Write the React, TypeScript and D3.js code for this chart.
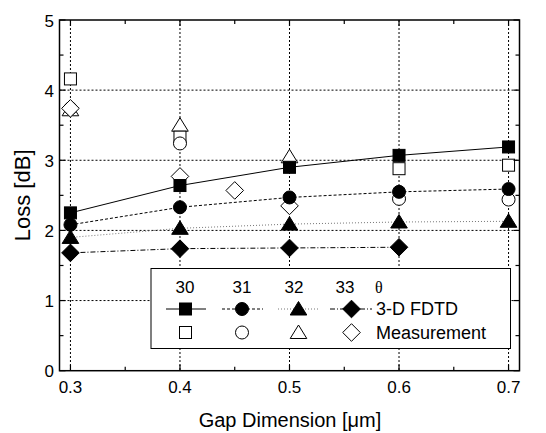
import React from "react";
import * as d3 from "d3";

const gaps = [0.3, 0.4, 0.5, 0.6, 0.7];
const fdtd30 = [2.25, 2.64, 2.9, 3.07, 3.19];
const fdtd31 = [2.08, 2.33, 2.47, 2.55, 2.59];
const fdtd32 = [1.9, 2.03, 2.09, 2.12, 2.13];
const fdtd33 = [1.68, 1.74, 1.75, 1.76];
const meas30x = [0.3, 0.4, 0.6, 0.7];
const meas30 = [4.16, 3.33, 2.88, 2.93];
const meas31x = [0.3, 0.4, 0.6, 0.7];
const meas31 = [3.74, 3.24, 2.45, 2.44];
const meas32x = [0.3, 0.4, 0.5];
const meas32 = [3.72, 3.5, 3.05];
const meas33x = [0.3, 0.4, 0.45, 0.5];
const meas33 = [3.74, 2.77, 2.57, 2.35];
const xTicks = [0.3, 0.4, 0.5, 0.6, 0.7];
const yTicks = [0, 1, 2, 3, 4, 5];
const legendAngles = ["30", "31", "32", "33"];

const W = 546, H = 433;
const L = 59.5, R = 519.5, T = 20, B = 370.7;
const x = d3.scaleLinear().domain([0.29, 0.71]).range([L, R]);
const y = d3.scaleLinear().domain([0, 5]).range([B, T]);
const font = "Liberation Sans, Arial, sans-serif";

type Shape = "square" | "circle" | "triangle" | "diamond";
function Marker({ shape, cx, cy, filled }: { shape: Shape; cx: number; cy: number; filled: boolean }) {
  const fill = filled ? "#000" : "#fff";
  const st = { fill, stroke: "#000", strokeWidth: 1 };
  if (shape === "square") return <rect x={cx - 6} y={cy - 6} width={12} height={12} {...st} />;
  if (shape === "circle") return <circle cx={cx} cy={cy} r={6.5} {...st} />;
  if (shape === "triangle") {
    return <path d={`M${cx},${cy - 7.5}L${cx + 8.3},${cy + 6}L${cx - 8.3},${cy + 6}Z`} {...st} />;
  }
  const s = 8.8;
  return <path d={`M${cx},${cy - s}L${cx + s},${cy}L${cx},${cy + s}L${cx - s},${cy}Z`} {...st} />;
}

const shapes: Shape[] = ["square", "circle", "triangle", "diamond"];
const dashes = ["", "3,2", "1,2", "5,2,1,2"];
const lineColors = ["#000", "#000", "#777", "#000"];

export default function App() {
  const fdtd = [fdtd30, fdtd31, fdtd32, fdtd33];
  const measX = [meas30x, meas31x, meas32x, meas33x];
  const meas = [meas30, meas31, meas32, meas33];
  const line = d3.line<[number, number]>().x(d => x(d[0])).y(d => y(d[1]));
  const minorX = d3.range(0.3, 0.71, 0.05);
  const minorY = d3.range(0, 5.01, 0.5);
  const legX = [185.5, 242, 298.5, 351.5];
  const legLine = [[166, 206], [222, 263], [278, 318], [330, 372]];
  return (
    <svg width={W} height={H} style={{ position: "absolute", left: 0, top: 0, background: "#fff" }}>
      <rect x={0} y={0} width={W} height={H} fill="#fff" />
      {xTicks.map(t => (
        <line key={"gx" + t} x1={x(t)} x2={x(t)} y1={T} y2={B} stroke="#000" strokeWidth={1} strokeDasharray="2,2" />
      ))}
      {yTicks.filter(t => t > 0 && t < 5).map(t => (
        <line key={"gy" + t} x1={L} x2={R} y1={y(t)} y2={y(t)} stroke="#000" strokeWidth={1} strokeDasharray="2,2" />
      ))}
      {fdtd.map((vals, i) => (
        <path key={"l" + i} d={line(vals.map((v, j) => [gaps[j], v]) as [number, number][]) || ""}
          fill="none" stroke={lineColors[i]} strokeWidth={1} strokeDasharray={dashes[i]} />
      ))}
      {[2, 0, 1, 3].map(i => measX[i].map((gx, j) => (
        <Marker key={"m" + i + "-" + j} shape={shapes[i]} cx={x(gx)} cy={y(meas[i][j])} filled={false} />
      )))}
      {fdtd.map((vals, i) => vals.map((v, j) => (
        <Marker key={"f" + i + "-" + j} shape={shapes[i]} cx={x(gaps[j])} cy={y(v)} filled={true} />
      )))}
      <rect x={151} y={268.5} width={359.5} height={80} fill="#fff" stroke="#000" strokeWidth={1} />
      {legendAngles.map((a, i) => (
        <text key={"la" + i} x={[185, 242, 294, 345][i]} y={292.5} textAnchor="middle" fontFamily={font} fontSize={17}>{a}</text>
      ))}
      <text x={375} y={292.5} fontFamily="Liberation Serif, Times New Roman, serif" fontSize={16}>θ</text>
      {shapes.map((s, i) => (
        <g key={"lg" + i}>
          <line x1={legLine[i][0]} x2={legLine[i][1]} y1={309} y2={309} stroke={lineColors[i]} strokeWidth={1} strokeDasharray={dashes[i]} />
          <Marker shape={s} cx={legX[i]} cy={309} filled={true} />
          <Marker shape={s} cx={legX[i]} cy={332.5} filled={false} />
        </g>
      ))}
      <text x={376} y={315} fontFamily={font} fontSize={18}>3-D FDTD</text>
      <text x={376} y={338.5} fontFamily={font} fontSize={18}>Measurement</text>
      <rect x={L} y={T} width={R - L} height={B - T} fill="none" stroke="#000" strokeWidth={1.5} />
      {minorX.map((t, k) => {
        const len = k % 2 === 0 ? 6 : 4;
        return (
          <g key={"tx" + k}>
            <line x1={x(t)} x2={x(t)} y1={B} y2={B - len} stroke="#000" strokeWidth={1.2} />
            <line x1={x(t)} x2={x(t)} y1={T} y2={T + len} stroke="#000" strokeWidth={1.2} />
          </g>
        );
      })}
      {minorY.map((t, k) => {
        const len = k % 2 === 0 ? 6 : 4;
        return (
          <g key={"ty" + k}>
            <line x1={L} x2={L + len} y1={y(t)} y2={y(t)} stroke="#000" strokeWidth={1.2} />
            <line x1={R} x2={R - len} y1={y(t)} y2={y(t)} stroke="#000" strokeWidth={1.2} />
          </g>
        );
      })}
      {xTicks.map(t => (
        <text key={"xl" + t} x={x(t)} y={393} textAnchor="middle" fontFamily={font} fontSize={17}>{t.toFixed(1)}</text>
      ))}
      {yTicks.map(t => (
        <text key={"yl" + t} x={54} y={y(t) + 6.5} textAnchor="end" fontFamily={font} fontSize={17}>{t}</text>
      ))}
      <text x={290} y={427} textAnchor="middle" fontFamily={font} fontSize={20}>Gap Dimension [μm]</text>
      <text transform={`translate(30,${(T + B) / 2}) rotate(-90)`} textAnchor="middle" fontFamily={font} fontSize={22}>Loss [dB]</text>
    </svg>
  );
}
